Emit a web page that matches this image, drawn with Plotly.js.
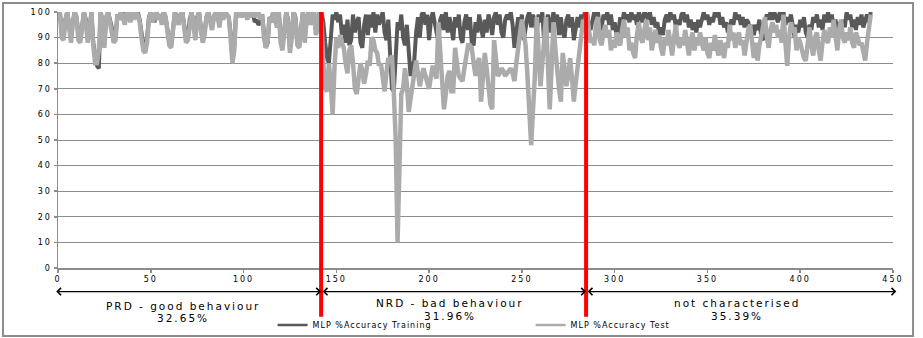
<!DOCTYPE html>
<html>
<head>
<meta charset="utf-8">
<script src="https://cdn.plot.ly/plotly-3.0.1.min.js"></script>
<style>
  html, body { margin: 0; padding: 0; background: #ffffff; }
  #chart { width: 923px; height: 338px; }
  .xtick text, .ytick text { letter-spacing: 2px; }
  .annotation-text { letter-spacing: 2px; }
  .legendtext { letter-spacing: 1px; }
</style>
</head>
<body>
<div id="chart"></div>
<script>
// ---- data ----
const trainingAccuracy = [
  100, 92, 90, 97, 100, 95, 90, 96, 100, 98,
  91, 89, 96, 100, 97, 90, 93, 100, 88, 82,
  79, 78, 100, 96, 88, 98, 100, 97, 94, 89,
  90, 99, 98, 100, 100, 97, 100, 100, 97, 100,
  98, 100, 100, 97, 92, 87, 86, 90, 98, 100,
  98, 96, 100, 98, 99, 96, 100, 98, 93, 88,
  87, 94, 100, 98, 96, 99, 100, 95, 90, 90,
  97, 100, 96, 91, 98, 100, 94, 89, 92, 98,
  100, 97, 94, 98, 100, 99, 95, 100, 98, 100,
  99, 98, 92, 82, 87, 100, 99, 100, 98, 100,
  100, 98, 100, 99, 100, 96, 97, 95, 96, 99,
  92, 86, 88, 98, 97, 100, 98, 95, 100, 90,
  87, 93, 100, 97, 86, 91, 100, 98, 89, 87,
  95, 100, 93, 96, 100, 96, 99, 100, 93, 95, 100,
  // NRD
  100, 96, 88, 82, 80, 92, 99, 97, 100, 96,
  99, 91, 95, 88, 97, 87, 89, 99, 92, 96,
  98, 88, 86, 95, 99, 91, 99, 94, 100, 92,
  99, 95, 98, 100, 92, 89, 97, 84, 70, 69,
  82, 96, 93, 99, 90, 87, 95, 83, 75, 79,
  81, 92, 98, 90, 99, 100, 95, 99, 89, 97,
  100, 96, 92, 88, 97, 99, 93, 100, 92, 98,
  94, 89, 98, 94, 99, 90, 88, 96, 99, 93,
  98, 88, 87, 96, 92, 99, 94, 90, 97, 92,
  99, 96, 91, 98, 100, 95, 99, 92, 90, 97,
  99, 97, 100, 95, 86, 92, 98, 93, 99, 89,
  95, 98, 100, 94, 99, 96, 92, 99, 96, 100,
  88, 94, 99, 92, 97, 100, 96, 99, 91, 98,
  92, 90, 97, 99, 94, 98, 89, 93, 98, 94,
  99, 97, 100,
  // not characterised
  100, 95, 93, 97, 100, 96, 100, 93, 94, 99,
  97, 100, 95, 99, 93, 96, 91, 92, 98, 95,
  100, 97, 99, 96, 100, 97, 99, 95, 100, 98,
  96, 100, 99, 97, 100, 95, 98, 94, 96, 91,
  94, 91, 97, 99, 96, 100, 97, 99, 94, 97,
  95, 99, 100, 96, 99, 94, 97, 93, 96, 92,
  97, 94, 98, 100, 97, 99, 95, 98, 96, 100,
  98, 100, 95, 98, 94, 96, 92, 94, 97, 95,
  100, 97, 99, 95, 98, 94, 97, 96, 92, 95,
  91, 95, 93, 97, 90, 89, 96, 99, 97, 100,
  97, 100, 98, 96, 100, 97, 100, 95, 98, 96,
  99, 94, 90, 95, 92, 97, 94, 98, 92, 90,
  95, 93, 98, 96, 99, 94, 97, 93, 99, 96,
  100, 96, 99, 94, 97, 93, 96, 91, 97, 94,
  100, 97, 99, 94, 97, 93, 98, 95, 99, 94,
  97, 99, 96, 100
];

const testAccuracy = [
  100, 90, 89, 97, 100, 93, 88, 96, 100, 98,
  89, 88, 95, 100, 96, 88, 92, 100, 87, 80,
  80, 85, 100, 95, 86, 98, 100, 96, 93, 88,
  89, 99, 97, 100, 98, 95, 100, 99, 96, 100,
  97, 100, 99, 96, 90, 85, 84, 88, 97, 100,
  96, 98, 100, 97, 99, 95, 100, 98, 92, 87,
  86, 93, 100, 97, 95, 99, 100, 94, 88, 89,
  96, 100, 95, 89, 97, 100, 93, 88, 91, 98,
  100, 96, 93, 98, 100, 99, 94, 100, 97, 100,
  99, 98, 90, 80, 85, 100, 99, 100, 98, 100,
  100, 97, 100, 99, 100, 98, 100, 100, 97, 99,
  90, 86, 89, 98, 96, 100, 97, 94, 100, 88,
  85, 92, 100, 96, 84, 90, 100, 97, 87, 86,
  93, 100, 88, 97, 100, 95, 99, 100, 91, 94, 100,
  // NRD
  95, 80, 70, 69, 80, 72, 60, 78, 90, 86,
  91, 88, 86, 80, 76, 85, 87, 80, 70, 68,
  75, 80, 77, 72, 76, 81, 79, 90, 89, 85,
  84, 79, 80, 74, 69, 76, 82, 81, 83, 68,
  50, 10, 48, 68, 70, 78, 72, 61, 66, 72,
  76, 81, 76, 71, 75, 78, 75, 73, 70, 75,
  79, 76, 74, 96, 84, 72, 62, 68, 75, 77,
  69, 69, 86, 80, 75, 74, 73, 78, 84, 87,
  87, 86, 80, 75, 80, 82, 65, 74, 84, 78,
  70, 64, 62, 89, 82, 75, 76, 78, 77, 75,
  76, 77, 78, 76, 73, 80, 88, 92, 97, 92,
  87, 75, 60, 48, 62, 75, 98, 84, 71, 80,
  87, 98, 80, 62, 78, 96, 86, 75, 70, 65,
  84, 78, 71, 76, 82, 74, 65, 72, 78, 86,
  91, 97, 95,
  // not characterised
  100, 94, 88, 90, 87, 96, 98, 89, 87, 92,
  95, 90, 93, 85, 89, 86, 92, 88, 87, 93,
  97, 90, 94, 85, 88, 84, 82, 91, 96, 90,
  88, 93, 97, 89, 94, 85, 90, 93, 88, 91,
  86, 83, 90, 87, 93, 88, 83, 90, 95, 88,
  86, 90, 87, 93, 88, 83, 89, 92, 85, 90,
  87, 92, 88, 85, 90, 84, 82, 88, 85, 91,
  86, 83, 89, 84, 82, 88, 86, 95, 89, 92,
  86, 90, 92, 87, 89, 83, 89, 93, 95, 86,
  82, 88, 81, 87, 91, 96, 98, 90, 86, 93,
  96, 92, 95, 90, 93, 88, 99, 88, 79, 90,
  96, 92, 94, 85, 90, 88, 84, 82, 81, 89,
  94, 87, 83, 90, 92, 85, 81, 88, 93, 89,
  88, 94, 90, 97, 89, 85, 93, 97, 90, 88,
  92, 89, 94, 88, 86, 92, 90, 87, 88, 83,
  81, 88, 94, 99
];

const seriesNames = ['MLP %Accuracy Training', 'MLP %Accuracy Test'];
const seriesColors = ['#595959', '#ababab'];
const regionBoundaries = [141.8, 284.6];          // red separators (x values)
const regionLabels = ['PRD - good behaviour', 'NRD - bad behaviour', 'not characterised'];
const regionShares = ['32.65%', '31.96%', '35.39%'];
const xTickValues = [0, 50, 100, 150, 200, 250, 300, 350, 400, 450];
const yTickValues = [0, 10, 20, 30, 40, 50, 60, 70, 80, 90, 100];

// ---- chart ----
const X_MIN = 0, X_MAX = 450;
const iterations = testAccuracy.map((_, i) => i + 1);
const toPaper = v => (v - X_MIN) / (X_MAX - X_MIN);
const plotW = 923 - 58 - 30;
const pxPerUnit = plotW / (X_MAX - X_MIN);

const traces = [
  { x: iterations, y: trainingAccuracy, name: seriesNames[0], type: 'scatter', mode: 'lines',
    line: { color: seriesColors[0], width: 4 }, showlegend: false, legendgroup: 'tr' },
  { x: iterations, y: testAccuracy, name: seriesNames[1], type: 'scatter', mode: 'lines',
    line: { color: seriesColors[1], width: 4.5 }, showlegend: false, legendgroup: 'te' },
  // legend-only entries with thinner line samples, as in the reference
  { x: [null], y: [null], name: seriesNames[0], type: 'scatter', mode: 'lines',
    line: { color: seriesColors[0], width: 2.5 }, showlegend: true, legendgroup: 'tr' },
  { x: [null], y: [null], name: seriesNames[1], type: 'scatter', mode: 'lines',
    line: { color: seriesColors[1], width: 2.5 }, showlegend: true, legendgroup: 'te' }
];

const shapes = [
  { type: 'rect', xref: 'paper', yref: 'paper', x0: -0.0659, x1: 1.024, y0: -0.2656, y1: 1.035,
    line: { color: '#8c8c8c', width: 2 }, fillcolor: 'rgba(0,0,0,0)', layer: 'below' }
];
regionBoundaries.forEach(b => shapes.push({
  type: 'line', xref: 'x', yref: 'paper', x0: b, x1: b, y0: -0.19, y1: 1.0,
  line: { color: '#ff0000', width: 4 }, layer: 'above'
}));

const arrowY = -0.092;
const arrowEnds = [X_MIN - 1.8].concat(regionBoundaries, [X_MAX + 1.8]);
const annotations = [];
for (let i = 0; i < 3; i++) {
  const a = arrowEnds[i], b = arrowEnds[i + 1];
  annotations.push({
    xref: 'paper', yref: 'paper', x: toPaper(b), y: arrowY,
    axref: 'pixel', ayref: 'pixel', ax: -(b - a) * pxPerUnit, ay: 0,
    text: '', showarrow: true, arrowside: 'end+start',
    arrowhead: 4, startarrowhead: 4, arrowsize: 1.2, arrowwidth: 1.2, arrowcolor: '#000000',
    standoff: 0, startstandoff: 0, font: { size: 1 }
  });
}
const labelCenters = [0.1497, 0.4695, 0.8132];
const labelY = [-0.1484, -0.1367, -0.1367];
const shareY = [-0.1953, -0.1875, -0.1875];
for (let i = 0; i < 3; i++) {
  annotations.push({ xref: 'paper', yref: 'paper', x: labelCenters[i], y: labelY[i],
    xanchor: 'center', yanchor: 'middle', showarrow: false, text: regionLabels[i],
    font: { family: 'DejaVu Sans', size: 10.5, color: '#000000' } });
  annotations.push({ xref: 'paper', yref: 'paper', x: labelCenters[i], y: shareY[i],
    xanchor: 'center', yanchor: 'middle', showarrow: false, text: regionShares[i],
    font: { family: 'DejaVu Sans', size: 10.5, color: '#000000' } });
}

const axisCommon = {
  showline: true, linecolor: '#8c8c8c', linewidth: 1.5, ticks: 'outside', ticklen: 3,
  tickcolor: '#8c8c8c', tickwidth: 1.5, zeroline: false, fixedrange: true, automargin: false,
  tickfont: { family: 'DejaVu Sans', size: 8, color: '#000000' }
};

const layout = {
  width: 923, height: 338,
  margin: { l: 58, r: 30, t: 12, b: 70, pad: 0, autoexpand: false },
  paper_bgcolor: '#ffffff', plot_bgcolor: '#ffffff',
  font: { family: 'DejaVu Sans', size: 8, color: '#000000' },
  xaxis: Object.assign({}, axisCommon, { range: [X_MIN, X_MAX], tickvals: xTickValues, showgrid: false }),
  yaxis: Object.assign({}, axisCommon, { range: [0, 100], tickvals: yTickValues, showgrid: true,
    gridcolor: '#8c8c8c', gridwidth: 1 }),
  showlegend: true,
  legend: { orientation: 'h', x: 0.257, xanchor: 'left', y: -0.223, yanchor: 'middle',
    font: { family: 'DejaVu Sans', size: 8, color: '#000000' }, bgcolor: 'rgba(0,0,0,0)',
    entrywidth: 213, entrywidthmode: 'pixels', itemwidth: 30, tracegroupgap: 0 },
  shapes: shapes,
  annotations: annotations,
  hovermode: false
};

Plotly.newPlot('chart', traces, layout, { staticPlot: true, displayModeBar: false });
</script>
</body>
</html>
